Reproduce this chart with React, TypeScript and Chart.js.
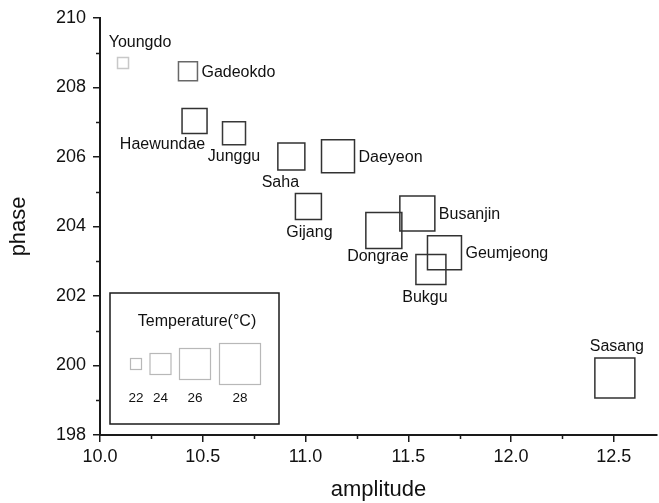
import React, { useEffect, useRef } from 'react';
import { Chart, registerables } from 'chart.js';
Chart.register(...registerables);

const districts = ['Youngdo', 'Gadeokdo', 'Haewundae', 'Junggu', 'Saha', 'Daeyeon', 'Gijang', 'Busanjin', 'Dongrae', 'Geumjeong', 'Bukgu', 'Sasang'];
const amplitude = [10.112, 10.428, 10.46, 10.652, 10.931, 11.158, 11.014, 11.544, 11.381, 11.676, 11.61, 12.505];
const phase = [208.7, 208.46, 207.03, 206.68, 206.01, 206.02, 204.57, 204.37, 203.88, 203.24, 202.76, 199.64];
const temperature = [22.0, 23.6, 24.8, 24.4, 25.2, 26.4, 25.0, 26.8, 27.0, 26.6, 25.8, 27.8];
const legendTemperatures = [22, 24, 26, 28];

const FONT = '"Liberation Sans", Arial, sans-serif';
const AXIS = '#1a1a1a';

function sideFor(t: number) {
  return 11 + (t - 22) * 5;
}
function strokeFor(t: number) {
  const g = Math.round(Math.max(50, Math.min(200, 200 - (t - 22) * 60)));
  return `rgb(${g},${g},${g})`;
}

// label placement: 'right' = right of square; otherwise [dx, dy] from centre
const labelPlacement: Record<string, 'right' | [number, number]> = {
  Youngdo: [17, -20],
  Gadeokdo: 'right',
  Haewundae: [-32, 24],
  Junggu: [0, 23],
  Saha: [-11, 26],
  Daeyeon: 'right',
  Gijang: [1, 26],
  Busanjin: 'right',
  Dongrae: [-6, 26],
  Geumjeong: 'right',
  Bukgu: [-6, 28],
  Sasang: [2, -31],
};

const labelPlugin = {
  id: 'pointLabels',
  afterDatasetsDraw(chart: any) {
    const ctx = chart.ctx;
    const meta = chart.getDatasetMeta(0);
    ctx.save();
    ctx.fillStyle = '#111';
    ctx.font = `16px ${FONT}`;
    ctx.textBaseline = 'middle';
    meta.data.forEach((pt: any, i: number) => {
      const name = districts[i];
      const p = labelPlacement[name];
      if (p === 'right') {
        ctx.textAlign = 'left';
        ctx.fillText(name, pt.x + sideFor(temperature[i]) / 2 + 4, pt.y + 1);
      } else {
        ctx.textAlign = 'center';
        ctx.fillText(name, pt.x + p[0], pt.y + p[1]);
      }
    });
    ctx.restore();
  },
};

const minorTickPlugin = {
  id: 'minorTicks',
  afterDraw(chart: any) {
    const ctx = chart.ctx;
    const xs = chart.scales.x;
    const ys = chart.scales.y;
    ctx.save();
    ctx.strokeStyle = AXIS;
    ctx.lineWidth = 1.5;
    ctx.beginPath();
    for (let v = 10.25; v < xs.max; v += 0.5) {
      const px = Math.round(xs.getPixelForValue(v)) + 0.5;
      ctx.moveTo(px, ys.bottom);
      ctx.lineTo(px, ys.bottom + 4);
    }
    for (let v = 199; v < 210; v += 2) {
      const py = Math.round(ys.getPixelForValue(v)) + 0.5;
      ctx.moveTo(xs.left, py);
      ctx.lineTo(xs.left - 4, py);
    }
    ctx.stroke();
    ctx.restore();
  },
};

const legendPlugin = {
  id: 'sizeLegend',
  afterDraw(chart: any) {
    const ctx = chart.ctx;
    const a = chart.chartArea;
    const bx = a.left + 10;
    const by = a.bottom - 142;
    const bw = 169;
    const bh = 131;
    ctx.save();
    ctx.strokeStyle = AXIS;
    ctx.lineWidth = 1.5;
    ctx.strokeRect(bx, by, bw, bh);
    ctx.fillStyle = '#111';
    ctx.font = `16px ${FONT}`;
    ctx.textAlign = 'center';
    ctx.textBaseline = 'middle';
    ctx.fillText('Temperature(°C)', bx + 87, by + 29);
    const centers = [26, 50.5, 85, 130];
    ctx.font = `13.5px ${FONT}`;
    legendTemperatures.forEach((t, i) => {
      const s = sideFor(t);
      const cx = bx + centers[i];
      const cy = by + 71;
      ctx.strokeStyle = '#b8b8b8';
      ctx.lineWidth = 1.2;
      ctx.strokeRect(cx - s / 2, cy - s / 2, s, s);
      ctx.fillStyle = '#111';
      ctx.fillText(String(t), cx, by + 105);
    });
    ctx.restore();
  },
};

export default function App() {
  const ref = useRef<HTMLCanvasElement>(null);
  useEffect(() => {
    if (!ref.current) return;
    const points = amplitude.map((x, i) => ({ x, y: phase[i] }));
    const chart = new Chart(ref.current, {
      type: 'scatter',
      data: {
        datasets: [
          {
            label: 'districts',
            data: points,
            pointStyle: 'rect',
            pointRadius: (c: any) => sideFor(temperature[c.dataIndex]) / Math.SQRT2,
            pointHoverRadius: (c: any) => sideFor(temperature[c.dataIndex]) / Math.SQRT2,
            borderColor: (c: any) => strokeFor(temperature[c.dataIndex]),
            backgroundColor: 'rgba(255,255,255,0)',
            borderWidth: 1.5,
            clip: false,
          },
        ],
      },
      options: {
        animation: false,
        responsive: false,
        maintainAspectRatio: false,
        layout: { autoPadding: false, padding: { top: 17, right: 2, left: 0, bottom: 0 } },
        plugins: { legend: { display: false }, tooltip: { enabled: false } },
        scales: {
          x: {
            type: 'linear',
            min: 10,
            max: 12.71,
            afterFit: (s: any) => {
              s.height = 68;
            },
            border: { display: true, color: AXIS, width: 2 },
            grid: { drawOnChartArea: false, drawTicks: true, tickLength: 7, color: AXIS, lineWidth: 1.5 },
            ticks: {
              stepSize: 0.5,
              includeBounds: false,
              padding: 4,
              color: '#111',
              font: { family: FONT, size: 18 },
              callback: (v: any) => Number(v).toFixed(1),
            },
            title: { display: true, text: 'amplitude', color: '#111', font: { family: FONT, size: 22 }, padding: { top: 6, bottom: 0 } },
          },
          y: {
            type: 'linear',
            min: 198,
            max: 210,
            afterFit: (s: any) => {
              s.width = 100;
            },
            border: { display: true, color: AXIS, width: 2 },
            grid: { drawOnChartArea: false, drawTicks: true, tickLength: 7, color: AXIS, lineWidth: 1.5 },
            ticks: {
              stepSize: 2,
              padding: 7,
              color: '#111',
              font: { family: FONT, size: 18 },
              callback: (v: any) => String(v),
            },
            title: { display: true, text: 'phase', color: '#111', font: { family: FONT, size: 22 }, padding: { top: 6, bottom: 0 } },
          },
        },
      },
      plugins: [labelPlugin, minorTickPlugin, legendPlugin],
    } as any);
    return () => chart.destroy();
  }, []);
  return (
    <div style={{ position: 'absolute', left: 0, top: 0, width: 659, height: 503, background: '#fff' }}>
      <canvas ref={ref} width={659} height={503} style={{ width: 659, height: 503 }} />
    </div>
  );
}
